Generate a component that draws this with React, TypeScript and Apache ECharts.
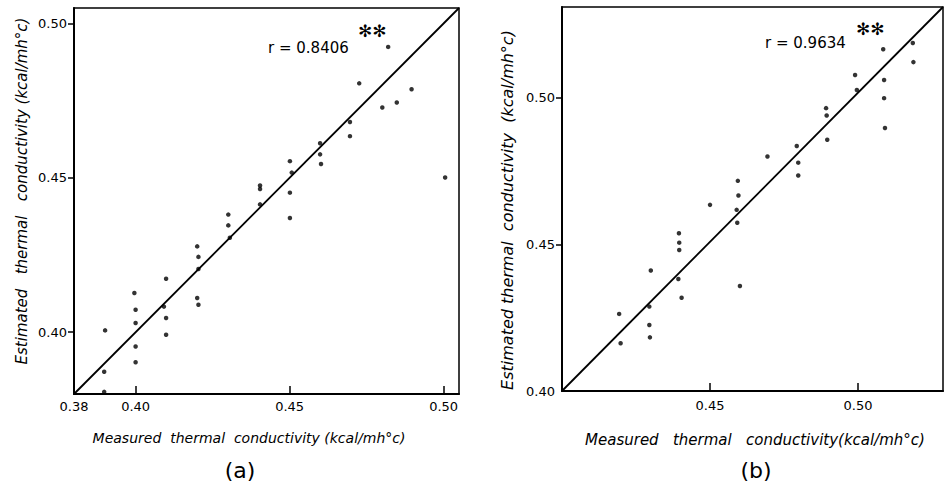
import React, { useEffect, useRef } from "react";
import * as echarts from "echarts";

// ---- Panel (a) data ----
const measuredA = [
  0.482, 0.4726, 0.4896, 0.4848, 0.4801, 0.4696, 0.4696, 0.4599, 0.4599, 0.4602,
  0.4501, 0.4507, 0.4404, 0.4404, 0.4501, 0.4404, 0.4501, 0.4301, 0.4301, 0.4306,
  0.42, 0.4204, 0.4204, 0.42, 0.4204, 0.4099, 0.4092, 0.4099, 0.4099, 0.3996,
  0.4, 0.4, 0.4, 0.4, 0.3901, 0.3898, 0.3898, 0.5005,
];
const estimatedA = [
  0.4924, 0.4806, 0.4787, 0.4744, 0.4728, 0.4681, 0.4635, 0.4612, 0.4576, 0.4545,
  0.4554, 0.4517, 0.4475, 0.4464, 0.4452, 0.4414, 0.437, 0.4381, 0.4346, 0.4306,
  0.4278, 0.4244, 0.4205, 0.4111, 0.4089, 0.4173, 0.4083, 0.4046, 0.3992, 0.4127,
  0.4073, 0.403, 0.3954, 0.3903, 0.4006, 0.3872, 0.3807, 0.4501,
];
const fitA = [0.38, 0.505];
const rangeA = [0.38, 0.505];
const xLabelsA = [0.38, 0.4, 0.45, 0.5];
const xTicksA = [0.4, 0.45, 0.5];
const yLabelsA = [0.4, 0.45, 0.5];
const rTextA = "r = 0.8406";

// ---- Panel (b) data ----
const measuredB = [
  0.5085, 0.5185, 0.5187, 0.499, 0.4996, 0.5088, 0.5088, 0.5091, 0.4892, 0.4894,
  0.4896, 0.4793, 0.4798, 0.4798, 0.4694, 0.4594, 0.4596, 0.459, 0.4592, 0.4601,
  0.45, 0.4395, 0.4396, 0.4396, 0.4393, 0.4404, 0.43, 0.4295, 0.4295, 0.4297,
  0.4193, 0.4198,
];
const estimatedB = [
  0.5166, 0.5187, 0.5122, 0.5078, 0.5027, 0.5061, 0.4999, 0.4897, 0.4965, 0.494,
  0.4857, 0.4836, 0.4779, 0.4735, 0.48, 0.4717, 0.4667, 0.4618, 0.4574, 0.4358,
  0.4635, 0.4538, 0.4506, 0.4481, 0.4382, 0.4318, 0.4411, 0.4288, 0.4225, 0.4183,
  0.4263, 0.4163,
];
const fitBx = [0.4, 0.5287];
const fitBy = [0.4, 0.531];
const xRangeB = [0.4, 0.5287];
const yRangeB = [0.4, 0.531];
const xLabelsB = [0.45, 0.5];
const xTicksB = [0.45, 0.5];
const yLabelsB = [0.4, 0.45, 0.5];
const yTicksB = [0.45, 0.5];
const rTextB = "r = 0.9634";

const xTitleA = "Measured  thermal  conductivity (kcal/mh°c)";
const xTitleB = "Measured   thermal   conductivity(kcal/mh°c)";
const yTitleA = "Estimated   thermal   conductivity (kcal/mh°c)";
const yTitleB = "Estimated thermal  conductivity  (kcal/mh°c)";

const FONT = "DejaVu Sans";

export default function App() {
  const ref = useRef<HTMLDivElement>(null);

  useEffect(() => {
    if (!ref.current) return;
    const chart = echarts.init(ref.current, undefined, { renderer: "svg" });

    const fmt = (v: number) => v.toFixed(2);
    const axisLine = { show: true, lineStyle: { color: "#000", width: 2 } };
    const labelStyle = { color: "#000", fontFamily: FONT, fontSize: 13 };

    const ptsA = measuredA.map((m, i) => [m, estimatedA[i]]);
    const ptsB = measuredB.map((m, i) => [m, estimatedB[i]]);

    const option: any = {
      animation: false,
      backgroundColor: "#fff",
      grid: [
        { left: 74, top: 8, width: 385, height: 386, show: true, borderColor: "#000", borderWidth: 1.5, containLabel: false },
        { left: 562, top: 7, width: 381, height: 384, show: true, borderColor: "#000", borderWidth: 1.5, containLabel: false },
      ],
      xAxis: [
        {
          type: "value", gridIndex: 0, min: rangeA[0], max: rangeA[1],
          axisLine, splitLine: { show: false },
          axisTick: { show: true, inside: true, length: 8, customValues: xTicksA, lineStyle: { color: "#000", width: 1.5 } },
          axisLabel: { ...labelStyle, margin: 6, customValues: xLabelsA, formatter: fmt },
        },
        {
          type: "value", gridIndex: 1, min: xRangeB[0], max: xRangeB[1],
          axisLine, splitLine: { show: false },
          axisTick: { show: true, inside: true, length: 8, customValues: xTicksB, lineStyle: { color: "#000", width: 1.5 } },
          axisLabel: { ...labelStyle, margin: 8, customValues: xLabelsB, formatter: fmt },
        },
      ],
      yAxis: [
        {
          type: "value", gridIndex: 0, min: rangeA[0], max: rangeA[1],
          axisLine, splitLine: { show: false },
          axisTick: { show: true, inside: false, length: 6, customValues: yLabelsA, lineStyle: { color: "#000", width: 1.5 } },
          axisLabel: { ...labelStyle, margin: 7, customValues: yLabelsA, formatter: fmt },
        },
        {
          type: "value", gridIndex: 1, min: yRangeB[0], max: yRangeB[1],
          axisLine, splitLine: { show: false },
          axisTick: { show: true, inside: false, length: 6, customValues: yTicksB, lineStyle: { color: "#000", width: 1.5 } },
          axisLabel: { ...labelStyle, margin: 7, customValues: yLabelsB, formatter: fmt },
        },
      ],
      series: [
        {
          type: "scatter", xAxisIndex: 0, yAxisIndex: 0, data: ptsA,
          symbol: "circle", symbolSize: 4.5, itemStyle: { color: "#000" },
        },
        {
          type: "line", xAxisIndex: 0, yAxisIndex: 0,
          data: [[fitA[0], fitA[0]], [fitA[1], fitA[1]]],
          showSymbol: false, lineStyle: { color: "#000", width: 1.8 },
        },
        {
          type: "scatter", xAxisIndex: 1, yAxisIndex: 1, data: ptsB,
          symbol: "circle", symbolSize: 4.5, itemStyle: { color: "#000" },
        },
        {
          type: "line", xAxisIndex: 1, yAxisIndex: 1,
          data: [[fitBx[0], fitBy[0]], [fitBx[1], fitBy[1]]],
          showSymbol: false, lineStyle: { color: "#000", width: 1.8 },
        },
      ],
      graphic: [
        // panel (a) texts
        { type: "text", x: 268, y: 48, style: { text: rTextA, fill: "#000", font: `15px '${FONT}'`, textVerticalAlign: "middle" } },
        { type: "text", x: 358, y: 31, style: { text: "✻✻", fill: "#000", font: `17px '${FONT}'`, textVerticalAlign: "middle", letterSpacing: 3 } },
        { type: "text", x: 249, y: 438, style: { text: xTitleA, fill: "#000", font: `italic 14px '${FONT}'`, textAlign: "center", textVerticalAlign: "middle" } },
        { type: "text", x: 22, y: 191, rotation: Math.PI / 2, style: { text: yTitleA, fill: "#000", font: `italic 15px '${FONT}'`, textAlign: "center", textVerticalAlign: "middle" } },
        { type: "text", x: 240, y: 470, style: { text: "(a)", fill: "#000", font: `22px '${FONT}'`, textAlign: "center", textVerticalAlign: "middle" } },
        // panel (b) texts
        { type: "text", x: 765, y: 43, style: { text: rTextB, fill: "#000", font: `15px '${FONT}'`, textVerticalAlign: "middle" } },
        { type: "text", x: 856, y: 29, style: { text: "✻✻", fill: "#000", font: `17px '${FONT}'`, textVerticalAlign: "middle", letterSpacing: 0 } },
        { type: "text", x: 755, y: 440, style: { text: xTitleB, fill: "#000", font: `italic 15px '${FONT}'`, textAlign: "center", textVerticalAlign: "middle" } },
        { type: "text", x: 507, y: 210, rotation: Math.PI / 2, style: { text: yTitleB, fill: "#000", font: `italic 16px '${FONT}'`, textAlign: "center", textVerticalAlign: "middle" } },
        { type: "text", x: 756, y: 470, style: { text: "(b)", fill: "#000", font: `22px '${FONT}'`, textAlign: "center", textVerticalAlign: "middle" } },
      ],
    };

    chart.setOption(option);
    return () => chart.dispose();
  }, []);

  return (
    <div
      ref={ref}
      style={{ position: "fixed", left: 0, top: 0, width: 950, height: 497, background: "#fff" }}
    />
  );
}
